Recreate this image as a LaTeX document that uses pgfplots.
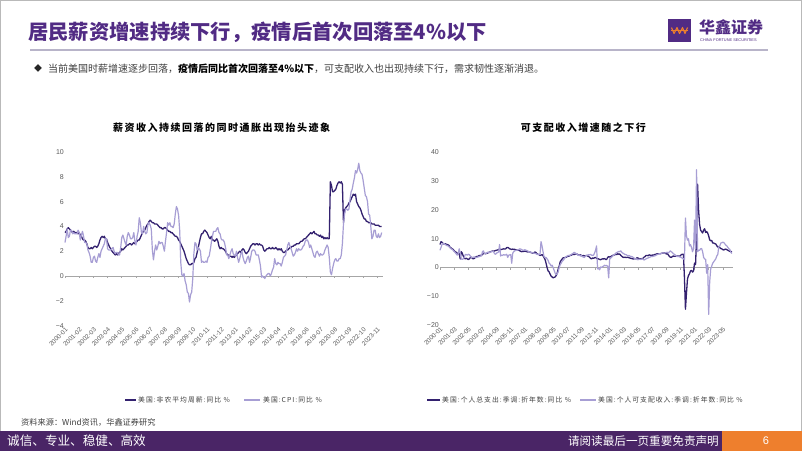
\documentclass[border=0pt]{standalone}
\usepackage{pgfplots}
\pgfplotsset{compat=1.18}
\usepackage{fontspec}
\setmainfont{Liberation Sans}
\newfontfamily\cjk{Noto Sans CJK SC}
\newfontfamily\cjksp{Noto Sans CJK SC}[LetterSpace=15]
\definecolor{tpurple}{HTML}{512B84}
\definecolor{dline}{HTML}{33216F}
\definecolor{lline}{HTML}{A79ED4}
\definecolor{fpurple}{HTML}{4A2566}
\definecolor{forange}{HTML}{EE7F2D}
\definecolor{sepline}{HTML}{B8B4C9}
\definecolor{ticktext}{HTML}{595959}
\definecolor{zline}{HTML}{A6A6A6}
\begin{document}
\begin{tikzpicture}[x=1pt,y=1pt]
\fill[white] (0,0) rectangle (802,451);
\draw[gray!55, line width=1pt] (0.5,0.5) rectangle (801.5,450.5);
% header
\node[anchor=west, inner sep=0, text=tpurple, font=\cjk\bfseries\fontsize{20.3}{22}\selectfont] at (28,419) {居民薪资增速持续下行，疫情后首次回落至4\%以下};
\draw[sepline, line width=1.3pt] (30,401) -- (768,401);
\fill[tpurple] (668,409) rectangle (691,432);
\draw[forange, line width=1.1pt, line join=round] (671.5,423.5) -- (674,417.5) -- (677,423.5) -- (679.5,417.5) -- (682.5,423.5) -- (685,417.5) -- (687.5,423.5);
\draw[forange, line width=0.8pt] (671,420.5) -- (688,420.5);
\node[anchor=west, inner sep=0, text=tpurple, font=\cjk\bfseries\fontsize{16}{18}\selectfont] at (699,424) {华鑫证券};
\node[anchor=west, inner sep=0, text=tpurple, font=\fontsize{3.9}{4}\selectfont] at (700,411) {CHINA FORTUNE SECURITIES};
\node[anchor=west, inner sep=0, text=black!85, font=\cjk\fontsize{8}{9}\selectfont] at (34,382.5) {◆};
\node[anchor=west, inner sep=0, text=black!75, font=\cjk\fontsize{10}{12}\selectfont] at (48,382) {当前美国时薪增速逐步回落，{\bfseries\color{black}疫情后同比首次回落至4\%以下}，可支配收入也出现持续下行，需求韧性逐渐消退。};
% chart titles
\node[inner sep=0, text=black, font=\cjksp\bfseries\fontsize{10}{12}\selectfont] at (221.7,323) {薪资收入持续回落的同时通胀出现抬头迹象};
\node[inner sep=0, text=black, font=\cjksp\bfseries\fontsize{10}{12}\selectfont] at (583.3,323) {可支配收入增速随之下行};
% chart 1
\begin{axis}[
 at={(65pt,125.4pt)}, anchor=south west, scale only axis,
 width=316.7pt, height=173.6pt,
 xmin=0, xmax=290, ymin=-4, ymax=10,
 axis line style={draw=none}, tick style={draw=none},
 clip=false,
 ytick={-4,-2,0,2,4,6,8,10},
 yticklabels={−4,−2,0,2,4,6,8,10},
 yticklabel style={font=\fontsize{7}{8}\selectfont, text=ticktext, inner sep=1pt},
 xtick={0,13,...,286},
 xticklabels={2000-01,2001-02,2002-03,2003-04,2004-05,2005-06,2006-07,2007-08,2008-09,2009-10,2010-11,2011-12,2013-01,2014-02,2015-03,2016-04,2017-05,2018-06,2019-07,2020-08,2021-09,2022-10,2023-11},
 xticklabel style={font=\fontsize{6.3}{7}\selectfont, text=ticktext, rotate=45, anchor=north east, inner sep=0.8pt},
]
\addplot[zline, line width=0.7pt] coordinates {(0,0) (291,0)};
\pgfplotsinvokeforeach{0,13,...,286}{\draw[zline, line width=0.6pt] (axis cs:#1,0) -- ([yshift=-2.2pt]axis cs:#1,0);}
\addplot[dline, line width=1.3pt, line join=round] table[row sep=\\, x expr=\coordindex, y=v] {v\\
3.5\\3.6\\3.8\\3.9\\3.8\\3.7\\3.6\\3.5\\3.6\\3.5\\3.5\\3.5\\
3.4\\3.5\\3.3\\3.2\\3.0\\2.9\\2.9\\2.8\\2.6\\2.3\\2.2\\2.2\\
2.3\\2.2\\2.3\\2.4\\2.4\\2.3\\2.4\\2.6\\2.9\\3.1\\3.2\\3.1\\
3.2\\3.0\\3.0\\2.7\\2.5\\2.3\\2.2\\2.0\\1.9\\1.8\\1.7\\1.8\\
1.7\\1.8\\1.9\\2.0\\2.2\\2.1\\2.2\\2.3\\2.4\\2.5\\2.5\\2.6\\
2.6\\2.5\\2.6\\2.7\\2.6\\2.7\\2.8\\2.9\\2.9\\3.1\\3.3\\3.5\\
3.6\\3.7\\3.9\\4.1\\4.2\\4.4\\4.5\\4.4\\4.3\\4.3\\4.2\\4.2\\
4.2\\4.1\\4.0\\3.9\\3.9\\3.8\\3.8\\3.9\\3.9\\3.8\\3.7\\3.6\\
3.6\\3.5\\3.5\\3.4\\3.3\\3.2\\3.2\\3.1\\2.9\\2.8\\2.6\\2.4\\
2.2\\2.0\\1.7\\1.4\\1.2\\1.0\\0.9\\0.9\\1.0\\1.0\\1.1\\1.4\\
1.5\\1.9\\2.3\\2.7\\3.1\\3.4\\3.4\\3.6\\3.7\\3.6\\3.5\\3.3\\
3.1\\3.0\\3.2\\2.9\\2.9\\2.8\\2.9\\3.0\\2.8\\2.4\\2.2\\2.3\\
2.2\\2.2\\2.1\\2.0\\1.8\\1.7\\1.7\\1.6\\1.6\\1.5\\1.6\\1.5\\
1.6\\1.7\\1.8\\1.9\\2.0\\1.9\\2.1\\2.2\\2.1\\1.9\\1.8\\1.9\\
2.0\\2.2\\2.4\\2.5\\2.6\\2.6\\2.5\\2.6\\2.6\\2.5\\2.6\\2.5\\
2.5\\2.4\\2.1\\2.0\\2.1\\2.2\\2.2\\2.3\\2.2\\2.2\\2.3\\2.2\\
2.2\\2.3\\2.2\\2.1\\2.2\\2.1\\2.2\\2.0\\1.9\\1.9\\2.0\\2.1\\
2.1\\2.2\\2.3\\2.3\\2.4\\2.4\\2.5\\2.5\\2.6\\2.6\\2.6\\2.7\\
2.8\\2.8\\2.9\\3.0\\3.0\\3.1\\3.2\\3.3\\3.4\\3.5\\3.4\\3.5\\
3.6\\3.4\\3.4\\3.3\\3.3\\3.2\\3.3\\3.1\\3.2\\3.0\\3.1\\3.0\\
3.1\\3.0\\3.0\\7.6\\7.3\\6.8\\6.8\\6.9\\7.0\\7.3\\7.5\\7.6\\
7.5\\7.6\\7.4\\4.3\\5.3\\5.5\\5.6\\5.7\\5.9\\6.0\\6.2\\6.4\\
6.6\\6.5\\6.6\\6.0\\5.8\\5.6\\5.5\\5.3\\5.0\\4.8\\4.6\\4.6\\
4.4\\4.4\\4.3\\4.3\\4.3\\4.2\\4.2\\4.2\\4.1\\4.1\\4.1\\4.1\\
4.0\\4.0\\4.0\\
};
\addplot[lline, line width=1.2pt, line join=round] table[row sep=\\, x expr=\coordindex, y=v] {v\\
2.7\\3.2\\3.8\\3.1\\3.2\\3.7\\3.7\\3.4\\3.5\\3.4\\3.4\\3.4\\
3.7\\3.5\\2.9\\3.3\\3.6\\3.2\\2.7\\2.7\\2.6\\2.1\\1.9\\1.6\\
1.1\\1.1\\1.5\\1.6\\1.2\\1.1\\1.5\\1.8\\1.5\\2.0\\2.2\\2.4\\
2.6\\3.0\\3.0\\2.2\\2.1\\2.1\\2.1\\2.2\\2.3\\2.0\\1.8\\1.9\\
1.9\\1.7\\1.7\\2.3\\3.1\\3.3\\3.0\\2.7\\2.5\\3.2\\3.5\\3.3\\
3.0\\3.0\\3.1\\3.5\\2.8\\2.5\\3.2\\3.6\\4.7\\4.3\\3.5\\3.4\\
4.0\\3.6\\3.4\\3.5\\4.2\\4.3\\4.1\\3.8\\2.1\\1.3\\2.0\\2.5\\
2.1\\2.4\\2.8\\2.6\\2.7\\2.7\\2.4\\2.0\\2.8\\3.5\\4.3\\4.1\\
4.3\\4.0\\4.0\\3.9\\4.2\\5.0\\5.6\\5.4\\4.9\\3.7\\1.1\\0.1\\
0.0\\0.2\\-0.4\\-0.7\\-1.3\\-1.4\\-2.1\\-1.5\\-1.3\\-0.2\\1.8\\2.7\\
2.6\\2.1\\2.3\\2.2\\2.0\\1.1\\1.2\\1.1\\1.1\\1.2\\1.1\\1.5\\
1.6\\2.1\\2.7\\3.2\\3.6\\3.6\\3.6\\3.8\\3.9\\3.5\\3.4\\3.0\\
2.9\\2.9\\2.7\\2.3\\1.7\\1.7\\1.4\\1.7\\2.0\\2.2\\1.8\\1.7\\
1.6\\2.0\\1.5\\1.1\\1.4\\1.8\\2.0\\1.5\\1.2\\1.0\\1.2\\1.5\\
1.6\\1.1\\1.5\\2.0\\2.1\\2.1\\2.0\\1.7\\1.7\\1.7\\1.3\\0.8\\
-0.1\\0.0\\-0.1\\-0.2\\0.0\\0.1\\0.2\\0.2\\0.0\\0.2\\0.5\\0.7\\
1.4\\1.0\\0.9\\1.1\\1.0\\1.0\\0.8\\1.1\\1.5\\1.6\\1.7\\2.1\\
2.5\\2.7\\2.4\\2.2\\1.9\\1.6\\1.7\\1.9\\2.2\\2.0\\2.2\\2.1\\
2.1\\2.2\\2.4\\2.5\\2.8\\2.9\\2.9\\2.7\\2.3\\2.5\\2.2\\1.9\\
1.6\\1.5\\1.9\\2.0\\1.8\\1.6\\1.8\\1.7\\1.7\\1.8\\2.1\\2.3\\
2.5\\2.3\\1.5\\0.3\\0.1\\0.6\\1.0\\1.3\\1.4\\1.2\\1.2\\1.4\\
1.4\\1.7\\2.6\\4.2\\5.0\\5.4\\5.4\\5.3\\5.4\\6.2\\6.8\\7.0\\
7.5\\7.9\\8.5\\8.3\\8.6\\9.1\\8.5\\8.3\\8.2\\7.7\\7.1\\6.5\\
6.4\\6.0\\5.0\\4.9\\4.0\\3.0\\3.2\\3.7\\3.7\\3.2\\3.1\\3.4\\
3.1\\3.2\\3.5\\
};
\end{axis}
% chart 2
\begin{axis}[
 at={(440pt,126pt)}, anchor=south west, scale only axis,
 width=291.9pt, height=172.5pt,
 xmin=0, xmax=289, ymin=-20, ymax=40,
 axis line style={draw=none}, tick style={draw=none},
 clip=false,
 ytick={-20,-10,0,10,20,30,40},
 yticklabels={−20,−10,0,10,20,30,40},
 yticklabel style={font=\fontsize{7}{8}\selectfont, text=ticktext, inner sep=1pt},
 xtick={0,14,...,280},
 xticklabels={2000-01,2001-03,2002-05,2003-07,2004-09,2005-11,2007-01,2008-03,2009-05,2010-07,2011-09,2012-11,2014-01,2015-03,2016-05,2017-07,2018-09,2019-11,2021-01,2022-03,2023-05},
 xticklabel style={font=\fontsize{6.3}{7}\selectfont, text=ticktext, rotate=45, anchor=north east, inner sep=0.8pt},
]
\addplot[zline, line width=0.7pt] coordinates {(0,0) (290,0)};
\pgfplotsinvokeforeach{0,14,...,280}{\draw[zline, line width=0.6pt] (axis cs:#1,0) -- ([yshift=-2.2pt]axis cs:#1,0);}
\addplot[dline, line width=1.3pt, line join=round] table[row sep=\\, x expr=\coordindex, y=v] {v\\
8.0\\9.0\\8.8\\8.3\\8.2\\8.3\\8.1\\8.0\\7.9\\7.6\\7.0\\6.8\\
6.5\\6.3\\5.8\\5.5\\5.3\\5.0\\4.8\\4.9\\3.0\\5.5\\5.0\\4.0\\
3.3\\3.0\\3.2\\3.0\\2.8\\3.0\\3.4\\3.6\\3.2\\3.0\\3.2\\3.5\\
3.8\\3.8\\4.0\\4.2\\4.2\\4.3\\4.5\\4.9\\5.0\\4.8\\4.9\\5.0\\
5.2\\5.3\\5.5\\5.6\\5.8\\5.6\\5.8\\5.9\\6.0\\6.1\\6.2\\6.4\\
6.2\\6.3\\6.4\\6.5\\6.4\\6.5\\6.9\\7.0\\6.8\\6.5\\6.4\\6.3\\
6.4\\6.3\\6.3\\6.2\\6.0\\6.1\\6.0\\5.8\\5.6\\5.5\\5.6\\5.6\\
5.7\\5.6\\5.5\\5.4\\5.5\\5.4\\5.2\\5.1\\5.0\\5.1\\5.4\\5.2\\
4.8\\4.6\\4.5\\4.2\\4.3\\4.5\\4.1\\3.5\\2.8\\1.5\\0.0\\-1.2\\
-1.5\\-2.3\\-3.0\\-3.3\\-3.6\\-3.4\\-3.3\\-2.8\\-2.0\\-0.5\\0.5\\2.0\\
2.5\\3.0\\3.4\\3.4\\3.5\\3.6\\3.8\\3.9\\4.0\\4.2\\4.3\\4.5\\
4.6\\4.5\\4.7\\4.8\\4.6\\4.3\\4.3\\4.4\\4.2\\4.0\\4.2\\4.0\\
4.1\\4.2\\4.0\\3.9\\3.6\\3.2\\3.0\\3.3\\3.2\\3.4\\3.5\\3.2\\
3.0\\3.0\\2.8\\2.7\\2.9\\3.0\\3.0\\3.1\\2.8\\2.8\\3.5\\3.8\\
3.6\\3.8\\4.0\\4.2\\4.3\\4.4\\4.6\\4.5\\4.8\\4.6\\4.7\\4.2\\
3.9\\3.6\\3.5\\3.6\\3.5\\3.5\\3.6\\3.4\\3.3\\3.2\\3.1\\3.0\\
3.0\\3.1\\3.0\\3.4\\3.3\\3.1\\3.0\\3.0\\3.1\\3.2\\3.6\\3.8\\
4.2\\4.2\\4.1\\4.4\\4.3\\4.2\\4.3\\4.3\\4.4\\4.6\\4.6\\4.8\\
4.8\\4.8\\4.8\\4.9\\5.0\\5.0\\5.1\\5.0\\4.7\\4.8\\4.4\\3.9\\
3.6\\3.5\\3.8\\4.0\\3.9\\3.9\\4.0\\4.0\\4.0\\3.9\\4.1\\4.5\\
4.6\\4.6\\-3.5\\-14.5\\-9.0\\-4.0\\-2.8\\-2.2\\-1.2\\-1.0\\-1.6\\-1.2\\
1.5\\1.0\\10.5\\29.0\\20.0\\15.0\\13.0\\12.5\\12.0\\13.0\\13.5\\12.2\\
12.5\\12.0\\11.0\\9.6\\9.3\\9.4\\8.5\\8.5\\8.3\\8.2\\7.6\\7.1\\
7.3\\6.9\\6.6\\6.5\\6.2\\6.1\\6.3\\6.4\\6.2\\6.0\\5.8\\5.6\\
5.6\\5.4\\
};
\addplot[lline, line width=1.2pt, line join=round] table[row sep=\\, x expr=\coordindex, y=v] {v\\
6.0\\7.0\\8.0\\8.5\\8.3\\8.0\\7.8\\7.6\\7.5\\7.2\\6.8\\6.5\\
6.3\\6.0\\5.6\\5.2\\4.8\\4.3\\4.8\\6.5\\5.0\\3.0\\2.8\\3.0\\
3.5\\4.5\\4.5\\4.3\\4.6\\4.5\\4.0\\3.5\\3.5\\3.6\\3.7\\3.4\\
3.5\\3.6\\3.7\\3.8\\4.0\\4.0\\5.5\\5.8\\4.8\\4.8\\5.0\\5.3\\
5.3\\5.2\\5.4\\5.5\\5.6\\5.5\\4.8\\4.6\\5.0\\5.2\\5.4\\8.0\\
4.0\\4.3\\4.2\\4.5\\4.3\\4.4\\4.6\\3.5\\4.3\\4.4\\4.5\\1.5\\
5.0\\5.5\\5.8\\5.9\\6.0\\6.1\\6.3\\6.5\\6.4\\6.2\\6.0\\6.0\\
6.2\\6.0\\5.9\\5.7\\5.5\\5.4\\5.3\\5.2\\5.1\\5.0\\4.9\\4.8\\
4.6\\4.5\\4.5\\4.6\\9.0\\7.5\\5.5\\3.8\\3.5\\3.5\\3.0\\2.5\\
1.5\\1.2\\0.5\\0.8\\0.0\\-1.0\\-2.0\\-2.5\\-2.2\\-1.5\\0.0\\1.0\\
1.5\\2.2\\2.5\\3.0\\3.5\\3.8\\4.0\\4.2\\4.2\\4.3\\4.5\\4.8\\
5.0\\5.3\\5.0\\4.8\\4.6\\4.2\\4.3\\4.0\\4.1\\3.8\\3.6\\3.5\\
4.0\\4.2\\4.3\\4.5\\4.4\\4.6\\4.3\\4.2\\4.3\\5.0\\6.0\\7.5\\
-0.5\\-0.3\\-0.8\\0.2\\0.0\\0.3\\0.5\\0.8\\0.6\\0.7\\0.4\\-3.6\\
3.0\\3.3\\3.6\\4.0\\4.3\\4.6\\5.0\\5.2\\5.4\\5.6\\5.5\\5.8\\
5.3\\5.0\\4.8\\4.5\\4.5\\4.3\\4.0\\4.2\\4.0\\3.8\\3.8\\3.6\\
3.3\\3.0\\3.1\\2.8\\2.7\\2.9\\2.9\\2.8\\3.0\\2.9\\2.6\\2.8\\
3.0\\3.2\\3.3\\3.5\\3.6\\3.8\\3.8\\3.9\\4.0\\4.1\\4.3\\4.5\\
4.6\\4.8\\4.7\\4.9\\5.0\\5.1\\5.0\\5.1\\5.2\\5.3\\5.0\\5.4\\
5.8\\5.5\\5.2\\4.8\\4.6\\4.3\\4.0\\3.8\\3.9\\3.7\\3.6\\3.5\\
3.2\\3.0\\2.8\\17.2\\11.0\\9.5\\10.0\\7.5\\8.0\\7.0\\5.5\\6.5\\
16.5\\6.5\\34.0\\5.5\\6.0\\6.0\\6.5\\6.6\\5.5\\3.5\\3.0\\2.8\\
-2.0\\1.0\\-16.3\\-5.0\\-0.5\\0.5\\1.5\\2.0\\2.5\\3.0\\4.0\\4.5\\
7.2\\7.5\\8.5\\8.6\\8.8\\8.7\\8.2\\7.8\\7.5\\7.0\\6.5\\6.3\\
5.2\\4.9\\
};
\end{axis}
% legends
\draw[dline, line width=1.3pt] (125,51) -- (136,51);
\node[anchor=west, inner sep=0, text=black!75, font=\cjksp\fontsize{6.8}{8}\selectfont] at (138,51) {美国:非农平均周薪:同比 \%};
\draw[lline, line width=1.2pt] (244,51) -- (260,51);
\node[anchor=west, inner sep=0, text=black!75, font=\cjksp\fontsize{6.8}{8}\selectfont] at (263,51) {美国:CPI:同比 \%};
\draw[dline, line width=1.3pt] (427,51) -- (440,51);
\node[anchor=west, inner sep=0, text=black!75, font=\cjksp\fontsize{6.8}{8}\selectfont] at (442,51) {美国:个人总支出:季调:折年数:同比 \%};
\draw[lline, line width=1.2pt] (580,51) -- (596,51);
\node[anchor=west, inner sep=0, text=black!75, font=\cjksp\fontsize{6.8}{8}\selectfont] at (598,51) {美国:个人可支配收入:季调:折年数:同比 \%};
% source
\node[anchor=west, inner sep=0, text=black!75, font=\cjk\fontsize{8.2}{9}\selectfont] at (21,29) {资料来源：Wind资讯，华鑫证券研究};
% footer
\fill[fpurple] (0,0) rectangle (722,20);
\fill[forange] (722,0) rectangle (802,20);
\node[anchor=west, inner sep=0, text=white, font=\cjk\fontsize{12.6}{14}\selectfont] at (7,10) {诚信、专业、稳健、高效};
\node[anchor=east, inner sep=0, text=white, font=\cjk\fontsize{11.6}{13}\selectfont] at (719,10) {请阅读最后一页重要免责声明};
\node[inner sep=0, text=white, font=\fontsize{11}{12}\selectfont] at (766,10.5) {6};
\end{tikzpicture}
\end{document}
